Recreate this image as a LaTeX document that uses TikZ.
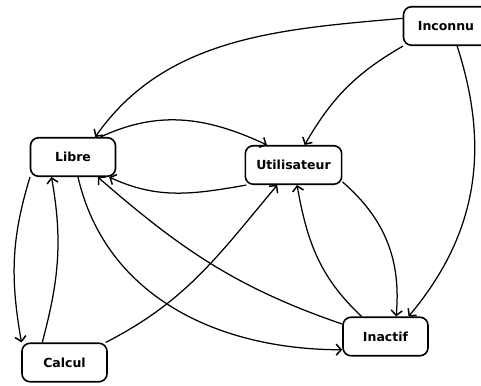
\documentclass[tikz,border=0pt]{standalone}
\usepackage{fontspec}
\newfontfamily\statefont{DejaVu Sans}[BoldFont={DejaVu Sans Bold}]
\usetikzlibrary{arrows.meta}
\begin{document}
\begin{tikzpicture}[x=1pt,y=1pt,
  statebox/.style={draw, line width=1.6pt, rounded corners=8pt, minimum width=85pt,
    minimum height=38.5pt, inner xsep=11pt, font=\statefont\bfseries\fontsize{12.5}{14}\selectfont},
  trans/.style={line width=1.25pt, -{Straight Barb[length=5pt,width=11pt,line width=1.5pt]}}]
\useasboundingbox (0,0) rectangle (481,385);
\node[statebox] (inc) at (446,359) {Inconnu};
\node[statebox] (lib) at (73,228) {Libre};
\node[statebox] (uti) at (293.5,220) {Utilisateur};
\node[statebox] (ina) at (385.5,48.5) {Inactif};
\node[statebox] (cal) at (64.5,22.5) {Calcul};
% from Inconnu
\draw[trans] (inc.170) to[out=185,in=55,looseness=0.95] (lib.42);
\draw[trans] (inc.205) to[out=210,in=60] (uti.61);
\draw[trans] (inc.299) to[out=-72,in=50] (ina.41);
% Libre <-> Utilisateur
\draw[trans] (lib.36) to[out=25,in=155] (uti.143);
\draw[trans] (uti.203) to[out=190,in=-25] (lib.331);
% Libre <-> Calcul
\draw[trans] (lib.205) to[out=253,in=100] (cal.155);
\draw[trans] (cal.138) to[out=75,in=-80] (lib.223);
% Libre <-> Inactif
\draw[trans] (lib.284) to[out=283,in=180] (ina.197);
\draw[trans] (ina.164) to[out=161,in=-41] (lib.321);
% to Utilisateur
\draw[trans] (cal.26) to[out=27,in=230] (uti.231);
\draw[trans] (ina.140) to[out=137,in=-80] (uti.280);
\draw[trans] (uti.341) to[out=-41,in=85] (ina.62);
\end{tikzpicture}
\end{document}
